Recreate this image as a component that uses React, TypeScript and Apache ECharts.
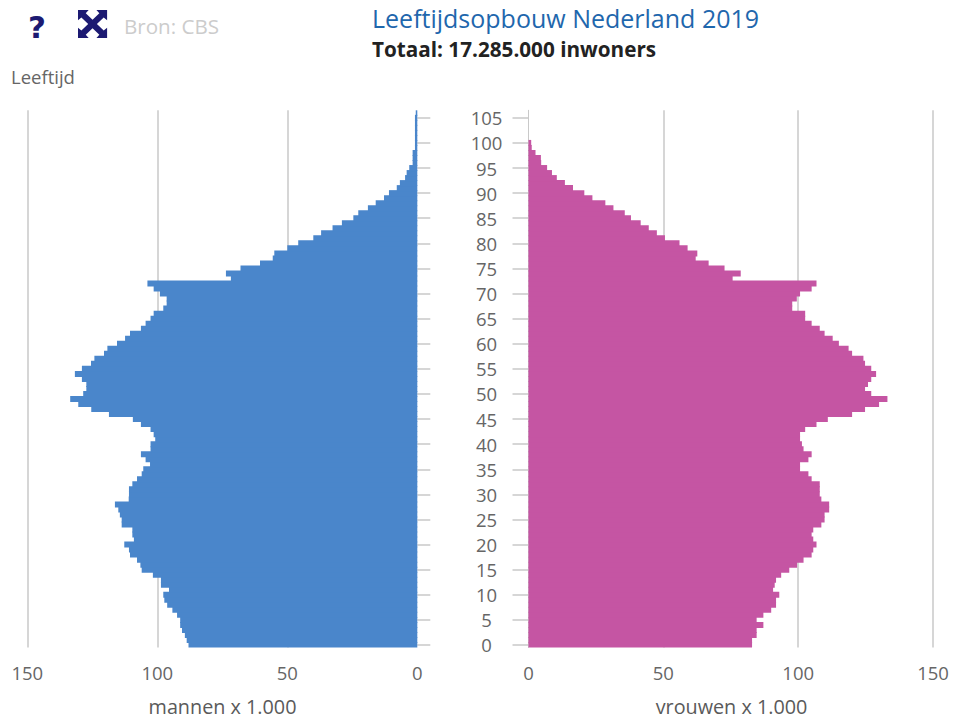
import React, { useEffect, useRef } from "react";
import * as echarts from "echarts";

const FONT = '"Open Sans", sans-serif';

// Index = age (0..106)
const ages = Array.from({ length: 107 }, (_, i) => String(i));

const men = [
  88, 88.7, 89.4, 90.5, 91.2, 91.2, 92.4, 94.2, 96.2, 97.3,
  97.7, 95.5, 98.6, 98.6, 101.7, 106, 106.5, 107.8, 110.5, 110.9,
  112.7, 109, 109.6, 109.6, 113.7, 113.7, 114.4, 115, 116.3, 111,
  110.9, 110.9, 109.6, 107.8, 106, 105.4, 102.8, 104.5, 106.3, 102.6,
  102.6, 100.8, 101.4, 102.6, 106.3, 109.4, 118.6, 125.4, 130.4, 133.5,
  128.5, 127.3, 127.3, 129, 131.7, 129, 125.5, 124.2, 120.5, 119.2,
  115.5, 112.4, 110.5, 106.3, 104.5, 102.6, 101.4, 97.7, 96.4, 96.4,
  99, 101.4, 103.8, 71.7, 73.6, 68, 60.5, 55.6, 55, 50,
  45.8, 40, 37, 32.6, 29, 24.6, 22.7, 19, 16, 12.8,
  10.9, 7.9, 6.7, 4.7, 4.1, 3.1, 1.8, 1.8, 1.8, 0.9,
  0.9, 0.9, 0.9, 0.9, 0.9, 0.9, 0.6,
];

const women = [
  82.9, 82.9, 84.6, 84.6, 87.1, 84.6, 87.1, 90, 91.8, 91.8,
  93, 90.7, 91.3, 91.8, 93.7, 96.7, 99.6, 102, 105, 105.6,
  106.8, 105.6, 105, 105.6, 108.6, 109.8, 109.8, 111.5, 111.5, 108.6,
  108, 108, 108, 105, 103.8, 100.7, 100.7, 103.8, 105, 102,
  101.4, 100.7, 100.7, 102.6, 106.8, 111, 120, 124.8, 130, 133.1,
  127.1, 124.8, 125.9, 127.1, 128.9, 127.1, 124.8, 124.2, 120, 118.7,
  115.1, 112.8, 109.8, 108, 105, 102.6, 102.6, 97.8, 97.8, 99.5,
  100.7, 105, 106.8, 75.7, 78.7, 72.7, 66.8, 62, 62.6, 59,
  56, 50.6, 47.6, 44.6, 41.6, 38, 35.7, 31.5, 28.5, 23.7,
  20.7, 16.5, 13.5, 10.5, 8.7, 6.9, 4.7, 4.6, 2.6, 1.2,
  1,
];

const title = "Leeftijdsopbouw Nederland 2019";
const subtitle = "Totaal: 17.285.000 inwoners";
const source = "Bron: CBS";
const yTitle = "Leeftijd";
const menLabel = "mannen x 1.000";
const womenLabel = "vrouwen x 1.000";

const BLUE = "#4a86cb";
const PINK = "#c555a3";
const GRID = "#c9c9c9";
const TEXT = "#666666";

const ICON =
  "M0 0H11L8 3.5L15 10.5L22 3.5L19 0H30V11L26.5 8L19.5 15L26.5 22L30 19V30H19L22 26.5L15 19.5L8 26.5L11 30H0V19L3.5 22L10.5 15L3.5 8L0 11Z";
echarts.graphic.registerShape("expandIcon", echarts.graphic.extendPath(ICON as any, {} as any) as any);

export default function App() {
  const ref = useRef<HTMLDivElement>(null);
  useEffect(() => {
    const chart = echarts.init(ref.current!, undefined, { renderer: "svg" });
    const top = 110.3;
    const height = 537.2;
    const xAxisBase = (gridIndex: number, inverse: boolean) => ({
      type: "value" as const,
      gridIndex,
      inverse,
      min: 0,
      max: 150,
      interval: 50,
      axisLine: { show: false },
      axisTick: { show: false },
      axisLabel: { color: TEXT, fontSize: 18.5, fontFamily: FONT, margin: 15 },
      splitLine: { show: true, showMinLine: false, lineStyle: { color: GRID, width: 1.5 } },
    });
    const yAxisBase = (gridIndex: number, position: "left" | "right", showLabels: boolean, showLine: boolean, tick: number) => ({
      type: "category" as const,
      gridIndex,
      data: ages,
      position,
      axisLine: { show: showLine, lineStyle: { color: GRID, width: 1 } },
      axisTick: { show: true, alignWithLabel: true, interval: 4, length: tick, lineStyle: { color: GRID, width: 1.5 } },
      axisLabel: {
        show: showLabels,
        interval: 4,
        color: TEXT,
        fontSize: 18.5,
        fontFamily: FONT,
        align: "center" as const,
        margin: 42,
      },
    });
    chart.setOption({
      animation: false,
      backgroundColor: "#ffffff",
      grid: [
        { left: 27.3, width: 390, top, height, outerBoundsMode: "none" },
        { left: 528.5, width: 404.5, top, height, outerBoundsMode: "none" },
      ],
      xAxis: [xAxisBase(0, true), xAxisBase(1, false)],
      yAxis: [yAxisBase(0, "right", false, false, 13), yAxisBase(1, "left", true, true, 16)],
      series: [
        {
          type: "bar",
          xAxisIndex: 0,
          yAxisIndex: 0,
          data: men,
          barWidth: 6,
          itemStyle: { color: BLUE },
          silent: true,
        },
        {
          type: "bar",
          xAxisIndex: 1,
          yAxisIndex: 1,
          data: women,
          barWidth: 6,
          itemStyle: { color: PINK },
          silent: true,
        },
      ],
      graphic: [
        { type: "text", x: 372, y: 5, style: { text: title, fill: "#1f67ad", font: `25px ${FONT}` } },
        { type: "text", x: 372, y: 38, style: { text: subtitle, fill: "#222222", font: `bold 20.7px ${FONT}` } },
        { type: "text", x: 124, y: 15, style: { text: source, fill: "#cccccc", font: `20.6px ${FONT}` } },
        { type: "text", x: 11, y: 67, style: { text: yTitle, fill: TEXT, font: `18.5px ${FONT}` } },
        { type: "text", x: 28, y: 11, style: { text: "?", fill: "#1c1a72", font: `bold 31px "DejaVu Sans", sans-serif` } },
        { type: "expandIcon", x: 78, y: 10, scaleX: 0.97, scaleY: 0.93, style: { fill: "#1c1a72" } },
        {
          type: "text",
          x: 222.5,
          y: 706,
          style: { text: menLabel, fill: "#5a5a5a", font: `19.8px ${FONT}`, align: "center", verticalAlign: "middle" },
        },
        {
          type: "text",
          x: 731.5,
          y: 706,
          style: { text: womenLabel, fill: "#5a5a5a", font: `19.8px ${FONT}`, align: "center", verticalAlign: "middle" },
        },
      ],
    });
    return () => chart.dispose();
  }, []);
  return <div ref={ref} style={{ position: "absolute", left: 0, top: 0, width: 953, height: 719 }} />;
}
